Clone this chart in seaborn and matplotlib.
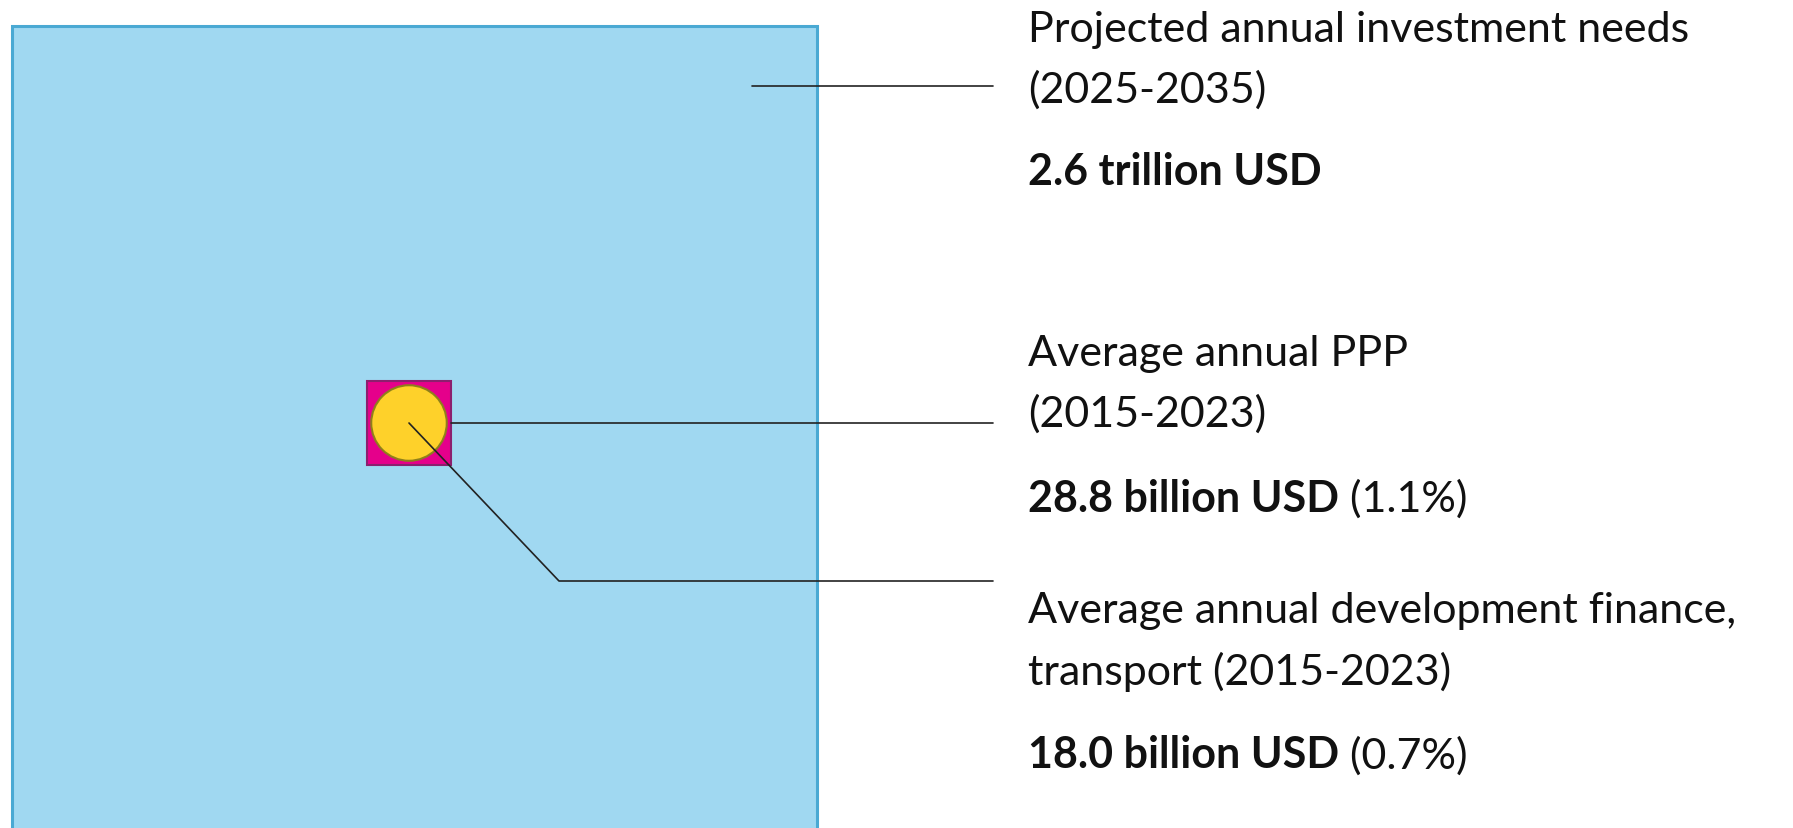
import matplotlib
matplotlib.use("Agg")
import numpy as np
import seaborn as sns
import matplotlib.pyplot as plt
from matplotlib.patches import Rectangle, Circle

sns.set_theme(style="white")
plt.rcParams["font.family"] = ["Lato", "DejaVu Sans"]

# valeurs (milliards USD)
labels = ["Projected annual investment needs\n(2025-2035)",
          "Average annual PPP\n(2015-2023)",
          "Average annual development finance,\ntransport (2015-2023)"]
values = [2600.0, 28.8, 18.0]
value_text = ["2.6 trillion USD", "28.8 billion USD", "18.0 billion USD"]
share_text = ["", " (1.1%)", " (0.7%)"]

W, H = 1793, 829
fig = plt.figure(figsize=(W / 100, H / 100), dpi=100)
ax = fig.add_axes([0, 0, 1, 1])
ax.set_xlim(0, W)
ax.set_ylim(H, 0)
ax.axis("off")

# surface proportionnelle a la valeur
k = 804.5 / np.sqrt(values[0])
big = k * np.sqrt(values[0])
ppp = k * np.sqrt(values[1])
dev_r = k * np.sqrt(values[2] / np.pi)

cx, cy = 414.7, 429.5
ax.add_patch(Rectangle((cx - big / 2, cy - big / 2), big, big,
                       facecolor="#a0d8f1", edgecolor="#4aa9d3", lw=2.2))
sx, sy = 409, 424
ax.add_patch(Rectangle((sx - ppp / 2, sy - ppp / 2), ppp, ppp,
                       facecolor="#e5008b", edgecolor="#8c1f6e", lw=1.5))
ax.add_patch(Circle((sx, sy), dev_r, facecolor="#fed12a",
                    edgecolor="#8f7f1a", lw=1.5))

# lignes de rappel
lc = "#222222"
x_end = 993
ax.plot([752, x_end], [87.3, 87.3], color=lc, lw=1.2)
ax.plot([sx + ppp / 2, x_end], [sy, sy], color=lc, lw=1.2)
ax.plot([sx, 559, x_end], [sy, 582, 582], color=lc, lw=1.2)

# textes
tx = 1028
fs = 31
tc = "#111111"
label_base = [41.7, 366, 623.5]
line_gap = 61
value_base = [185, 511.7, 768.3]
for lab, vb, lb, st, vt in zip(labels, value_base, label_base, share_text, value_text):
    for i, line in enumerate(lab.split("\n")):
        ax.text(tx, lb + i * line_gap, line, fontsize=fs, color=tc, va="baseline", ha="left")
    t = ax.text(tx, vb, vt, fontsize=fs, fontweight="bold", color=tc, va="baseline", ha="left")
    if st:
        ax.annotate(st, xy=(1, vb), xycoords=(t, "data"), fontsize=fs, color=tc,
                    va="baseline", ha="left")

fig.savefig("out.png", dpi=100)
